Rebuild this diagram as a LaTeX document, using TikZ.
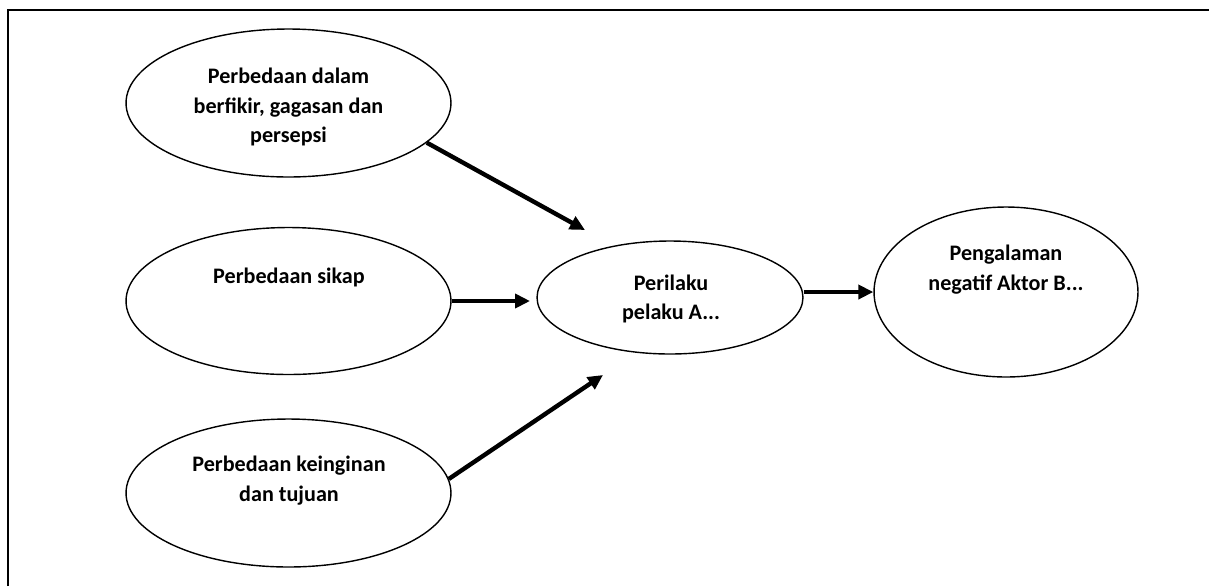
\documentclass[tikz,border=0pt]{standalone}
\usepackage{fontspec}
\setmainfont{Carlito}
\usetikzlibrary{shapes.geometric,arrows.meta}

\begin{document}
\begin{tikzpicture}[x=0.02cm, y=-0.02cm,
    bubble/.style={draw, ellipse, line width=.8pt, inner sep=0pt},
    txt/.style={font=\fontsize{12.6}{17}\selectfont\bfseries, align=center, inner sep=0pt},
    panah/.style={line width=2.5pt, -{Triangle[length=0.3cm,width=0.28cm]}}]
    \useasboundingbox (0,0) rectangle (1209,586);
    \draw[line width=1.1pt] (7.7,586) -- (7.7,10) -- (1209,10);

    \node[bubble, minimum width=6.5cm, minimum height=2.96cm] (berfikir) at (288.5,103) {};
    \node[bubble, minimum width=6.5cm, minimum height=2.94cm] (sikap) at (288.5,301) {};
    \node[bubble, minimum width=6.5cm, minimum height=2.96cm] (keinginan) at (288.5,493) {};
    \node[bubble, minimum width=5.32cm, minimum height=2.26cm] (perilaku) at (670,297.5) {};
    \node[bubble, minimum width=5.28cm, minimum height=3.4cm] (pengalaman) at (1006,292) {};

    \node[txt] (berfikirT) at (288.5,107) {Perbedaan dalam\\berfikir, gagasan dan\\persepsi};
    \node[txt] (sikapT) at (289,277) {Perbedaan sikap};
    \node[txt] (keinginanT) at (289,481) {Perbedaan keinginan\\dan tujuan};
    \node[txt] (perilakuT) at (671,299) {Perilaku\\pelaku A...};
    \node[txt] (pengalamanT) at (1006,270) {Pengalaman\\negatif Aktor B...};

    \coordinate (ujung1) at (585,230);
    \coordinate (ujung2) at (530,301);
    \coordinate (ujung3) at (603,375);

    \draw[panah] (berfikir.-16) -- (ujung1);
    \draw[panah] (sikap.east) -- (ujung2);
    \draw[panah] (keinginan.5) -- (ujung3);
    \draw[panah] (perilaku.east |- pengalaman.west) -- (pengalaman.west);
\end{tikzpicture}
\end{document}
